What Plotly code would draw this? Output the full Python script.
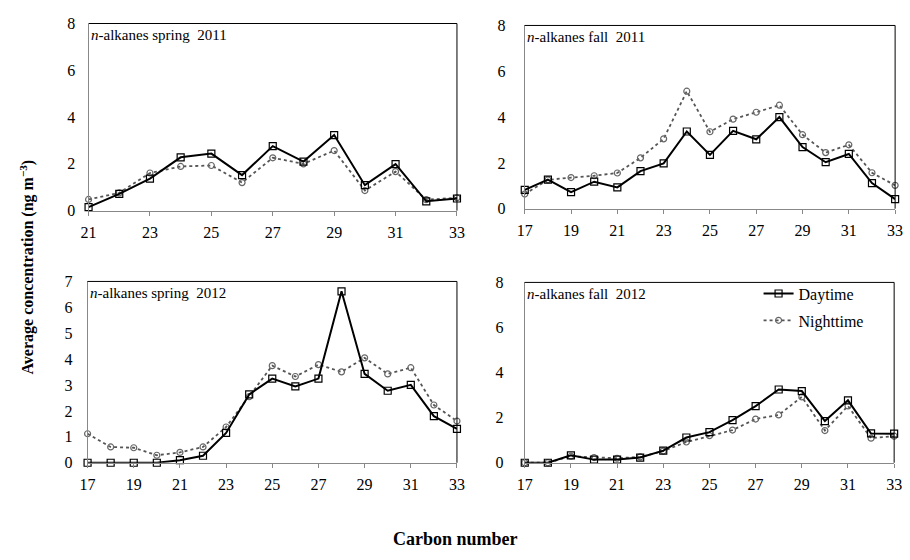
import plotly.graph_objects as go

W, H = 910, 560

carbon_2011_spring = list(range(21, 34))
carbon_full = list(range(17, 34))

spring2011_day = [0.15, 0.72, 1.37, 2.28, 2.44, 1.52, 2.76, 2.10, 3.23, 1.09, 1.99, 0.40, 0.52]
spring2011_night = [0.48, 0.76, 1.61, 1.89, 1.93, 1.20, 2.26, 2.00, 2.57, 0.86, 1.67, 0.47, 0.55]

fall2011_day = [0.82, 1.27, 0.72, 1.18, 0.93, 1.64, 1.98, 3.37, 2.35, 3.40, 3.03, 4.00, 2.69, 2.03, 2.39, 1.12, 0.42]
fall2011_night = [0.64, 1.26, 1.36, 1.44, 1.56, 2.22, 3.05, 5.13, 3.36, 3.91, 4.21, 4.52, 3.23, 2.45, 2.79, 1.57, 1.02]

spring2012_day = [0.0, 0.0, 0.0, 0.0, 0.10, 0.27, 1.15, 2.64, 3.25, 2.95, 3.25, 6.62, 3.43, 2.78, 3.01, 1.80, 1.31]
spring2012_night = [1.12, 0.61, 0.58, 0.29, 0.40, 0.61, 1.38, 2.55, 3.75, 3.33, 3.79, 3.51, 4.05, 3.43, 3.67, 2.23, 1.61]

fall2012_day = [0.0, 0.0, 0.33, 0.14, 0.14, 0.23, 0.54, 1.12, 1.36, 1.89, 2.51, 3.25, 3.18, 1.85, 2.77, 1.30, 1.29]
fall2012_night = [0.0, 0.0, 0.29, 0.23, 0.20, 0.26, 0.52, 0.92, 1.20, 1.45, 1.94, 2.12, 2.92, 1.43, 2.52, 1.09, 1.18]

panel_titles = ["<i>n</i>-alkanes spring  2011", "<i>n</i>-alkanes fall  2011",
                "<i>n</i>-alkanes spring  2012", "<i>n</i>-alkanes fall  2012"]
series_names = ["Daytime", "Nighttime"]
y_title = "Average concentration (ng m<sup>\u22123</sup>)"
x_title = "Carbon number"

FONT = "Liberation Serif"

# pixel boxes (left, right, top, bottom)
boxes = [(82, 457, 16, 209), (526, 903, 18, 207), (81, 457, 282, 469), (526, 902, 283, 469)]
xranges = [(21, 33), (17, 33), (17, 33), (17, 33)]
yranges = [(0, 8, 2), (0, 8, 2), (0, 7, 1), (0, 8, 2)]
ygap = [9, 15, 11, 17]

data = [
    (carbon_2011_spring, spring2011_day, spring2011_night),
    (carbon_full, fall2011_day, fall2011_night),
    (carbon_full, spring2012_day, spring2012_night),
    (carbon_full, fall2012_day, fall2012_night),
]

fig = go.Figure()
layout = dict(
    width=W, height=H, margin=dict(l=0, r=0, t=0, b=0),
    plot_bgcolor="white", paper_bgcolor="white",
    font=dict(family=FONT, size=15, color="black"),
    showlegend=True,
)
shapes = []
annotations = []

for i, ((l, r, t, b), (x0, x1), (y0, y1, dy), (xs, day, night)) in enumerate(zip(boxes, xranges, yranges, data)):
    n = i + 1
    xa = "xaxis" if n == 1 else f"xaxis{n}"
    ya = "yaxis" if n == 1 else f"yaxis{n}"
    xref = "x" if n == 1 else f"x{n}"
    yref = "y" if n == 1 else f"y{n}"
    layout[xa] = dict(
        domain=[l / W, r / W], range=[x0, x1], anchor=yref,
        tick0=17, dtick=2, ticks="outside", ticklen=4, tickcolor="#888",
        showline=True, linecolor="#888", linewidth=1, showgrid=False, zeroline=False,
        tickfont=dict(family=FONT, size=16), ticklabelstandoff=3,
    )
    layout[ya] = dict(
        domain=[1 - b / H, 1 - t / H], range=[y0, y1], anchor=xref,
        dtick=dy, ticks="outside", ticklen=ygap[i], tickcolor="rgba(0,0,0,0)",
        showline=True, linecolor="#888", linewidth=1,
        showgrid=False, zeroline=False, tickfont=dict(family=FONT, size=16),
    )
    # black top and right border
    shapes.append(dict(type="line", xref=f"{xref} domain", yref=f"{yref} domain",
                       x0=0, x1=1, y0=1, y1=1, line=dict(color="black", width=1)))
    shapes.append(dict(type="line", xref=f"{xref} domain", yref=f"{yref} domain",
                       x0=1, x1=1, y0=0, y1=1, line=dict(color="black", width=1)))
    fig.add_trace(go.Scatter(
        x=xs, y=night, xaxis=xref, yaxis=yref, mode="lines+markers", name=series_names[1],
        line=dict(color="#555", width=1.8, dash="dot"),
        marker=dict(symbol="circle-open", size=6, color="#666", line=dict(width=1.2)),
        cliponaxis=False, showlegend=(n == 4), legendrank=2, legendgroup="night",
    ))
    fig.add_trace(go.Scatter(
        x=xs, y=day, xaxis=xref, yaxis=yref, mode="lines+markers", name=series_names[0],
        line=dict(color="black", width=2),
        marker=dict(symbol="square-open", size=7, color="black", line=dict(width=1.2)),
        cliponaxis=False, showlegend=(n == 4), legendrank=1, legendgroup="day",
    ))
    annotations.append(dict(
        text=panel_titles[i], xref="paper", yref="paper",
        x=l / W, y=1 - (t + 12) / H, xanchor="left", yanchor="middle",
        showarrow=False, font=dict(family=FONT, size=15),
    ))

annotations.append(dict(
    text=f"<b>{y_title}</b>", xref="paper", yref="paper", x=20 / W, y=1 - 267 / H,
    xanchor="center", yanchor="middle", textangle=-90, showarrow=False,
    font=dict(family=FONT, size=16),
))
annotations.append(dict(
    text=f"<b>{x_title}</b>", xref="paper", yref="paper", x=455 / W, y=0,
    xanchor="center", yanchor="bottom", showarrow=False,
    font=dict(family=FONT, size=18),
))

layout["shapes"] = shapes
layout["annotations"] = annotations
layout["legend"] = dict(
    x=764 / W, y=1 - 277 / H, xanchor="left", yanchor="top",
    bgcolor="rgba(0,0,0,0)", borderwidth=0, font=dict(family=FONT, size=16),
    itemwidth=30, tracegroupgap=3, traceorder="grouped",
)
fig.update_layout(**layout)
fig.write_html("out.html")
